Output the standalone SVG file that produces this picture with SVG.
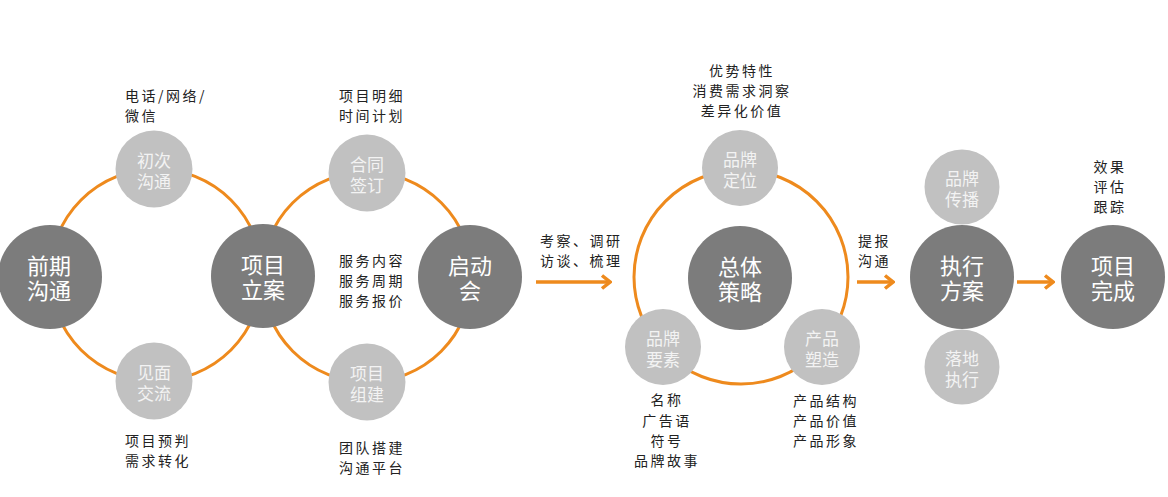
<svg xmlns="http://www.w3.org/2000/svg" width="1168" height="497" viewBox="0 0 1168 497">
<defs>
<style>
.ring{fill:none;stroke:#ee8a1d;stroke-width:3}
.arrow{fill:none;stroke:#ee8a1d;stroke-width:3.5}
.big{fill:#7c7c7c}
.small{fill:#c1c1c1}
.bt{font-family:"Noto Sans CJK SC","Noto Sans",sans-serif;font-size:22px;fill:#ffffff;text-anchor:middle}
.st{font-family:"Noto Sans CJK SC","Noto Sans",sans-serif;font-size:17px;fill:#f3f3f3;text-anchor:middle}
.lb{font-family:"Noto Sans CJK SC","Noto Sans",sans-serif;font-size:14px;fill:#222222;letter-spacing:2.5px}
.lc{font-family:"Noto Sans CJK SC","Noto Sans",sans-serif;font-size:14px;fill:#222222;letter-spacing:2.5px;text-anchor:middle}
</style>
<marker id="head" viewBox="0 0 12 16" refX="10" refY="8" markerWidth="12" markerHeight="16" markerUnits="userSpaceOnUse" orient="auto">
<path d="M2 1.5 L10 8 L2 14.5" fill="none" stroke="#ee8a1d" stroke-width="3.5"/>
</marker>
</defs>
<rect width="1168" height="497" fill="#ffffff"/>
<g id="connectors">
<circle class="ring" cx="156" cy="275" r="106"/>
<circle class="ring" cx="367" cy="277" r="105"/>
<circle class="ring" cx="741" cy="277" r="107"/>
<path class="arrow" d="M536 282 H610" marker-end="url(#head)"/>
<path class="arrow" d="M857 282 H893" marker-end="url(#head)"/>
<path class="arrow" d="M1017 282 H1053" marker-end="url(#head)"/>
</g>
<g id="n-qianqi"><circle class="big" cx="50" cy="277" r="52"/><text class="bt" x="49" y="274">前期<tspan x="49" dy="25">沟通</tspan></text></g>
<g id="n-chuci"><circle class="small" cx="154" cy="169" r="38.5"/><text class="st" x="154" y="167">初次<tspan x="154" dy="21">沟通</tspan></text></g>
<g id="n-jianmian"><circle class="small" cx="154" cy="381" r="38.5"/><text class="st" x="154" y="379">见面<tspan x="154" dy="21">交流</tspan></text></g>
<g id="n-lixiang"><circle class="big" cx="263" cy="276" r="52"/><text class="bt" x="263" y="273">项目<tspan x="263" dy="25">立案</tspan></text></g>
<g id="n-hetong"><circle class="small" cx="367" cy="173" r="38.5"/><text class="st" x="367" y="171">合同<tspan x="367" dy="21">签订</tspan></text></g>
<g id="n-zujian"><circle class="small" cx="367" cy="382" r="38.5"/><text class="st" x="367" y="380">项目<tspan x="367" dy="21">组建</tspan></text></g>
<g id="n-qidong"><circle class="big" cx="470" cy="277" r="52"/><text class="bt" x="470" y="274">启动<tspan x="470" dy="25">会</tspan></text></g>
<g id="n-dingwei"><circle class="small" cx="740" cy="168" r="38"/><text class="st" x="740" y="166">品牌<tspan x="740" dy="21">定位</tspan></text></g>
<g id="n-celue"><circle class="big" cx="740" cy="278" r="52"/><text class="bt" x="740" y="275">总体<tspan x="740" dy="25">策略</tspan></text></g>
<g id="n-yaosu"><circle class="small" cx="663" cy="347" r="38"/><text class="st" x="663" y="345">品牌<tspan x="663" dy="21">要素</tspan></text></g>
<g id="n-suzao"><circle class="small" cx="822" cy="347" r="38"/><text class="st" x="822" y="345">产品<tspan x="822" dy="21">塑造</tspan></text></g>
<g id="n-chuanbo"><circle class="small" cx="962" cy="187" r="37.5"/><text class="st" x="962" y="185">品牌<tspan x="962" dy="21">传播</tspan></text></g>
<g id="n-zhixing"><circle class="big" cx="962" cy="277" r="52"/><text class="bt" x="962" y="274">执行<tspan x="962" dy="25">方案</tspan></text></g>
<g id="n-luodi"><circle class="small" cx="962" cy="367" r="37.5"/><text class="st" x="962" y="365">落地<tspan x="962" dy="21">执行</tspan></text></g>
<g id="n-wancheng"><circle class="big" cx="1113" cy="277" r="52"/><text class="bt" x="1113" y="274">项目<tspan x="1113" dy="25">完成</tspan></text></g>
<g id="labels">
<text class="lb" x="125" y="101">电话/网络/<tspan x="125" dy="20">微信</tspan></text>
<text class="lb" x="125" y="446">项目预判<tspan x="125" dy="20">需求转化</tspan></text>
<text class="lb" x="339" y="101">项目明细<tspan x="339" dy="20">时间计划</tspan></text>
<text class="lb" x="339" y="266">服务内容<tspan x="339" dy="20">服务周期</tspan><tspan x="339" dy="20">服务报价</tspan></text>
<text class="lb" x="339" y="453">团队搭建<tspan x="339" dy="20">沟通平台</tspan></text>
<text class="lb" x="540" y="246">考察、调研<tspan x="540" dy="20">访谈、梳理</tspan></text>
<text class="lc" x="742" y="76">优势特性<tspan x="742" dy="20">消费需求洞察</tspan><tspan x="742" dy="20">差异化价值</tspan></text>
<text class="lc" x="667" y="405">名称<tspan x="667" dy="21">广告语</tspan><tspan x="667" dy="20">符号</tspan><tspan x="667" dy="20">品牌故事</tspan></text>
<text class="lc" x="826" y="406">产品结构<tspan x="826" dy="20">产品价值</tspan><tspan x="826" dy="20">产品形象</tspan></text>
<text class="lb" x="858" y="246">提报<tspan x="858" dy="20">沟通</tspan></text>
<text class="lc" x="1110" y="172">效果<tspan x="1110" dy="20">评估</tspan><tspan x="1110" dy="20">跟踪</tspan></text>
</g>
</svg>
